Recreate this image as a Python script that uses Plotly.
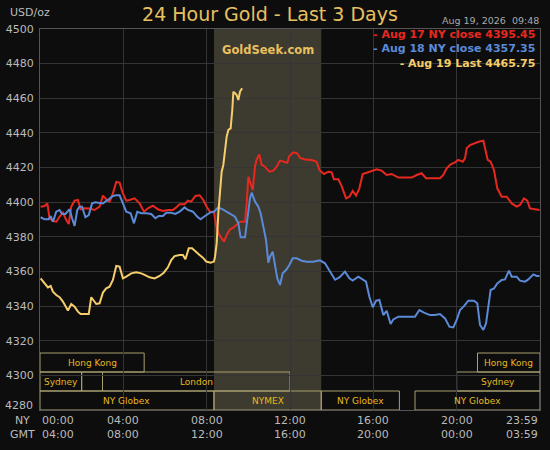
import plotly.graph_objects as go

# ---------------- data ----------------
# time in hours NY (0..24), price in USD/oz
aug17_t = [0.03,0.22,0.35,0.46,0.62,0.78,0.94,1.10,1.26,1.38,1.50,1.66,1.82,1.95,2.14,2.38,2.62,2.86,
           3.02,3.18,3.34,3.50,3.66,3.82,3.98,4.14,4.30,4.54,4.78,4.99,5.18,5.42,5.66,5.90,6.14,6.38,
           6.54,6.70,6.94,7.10,7.26,7.46,7.66,7.84,8.00,8.16,8.35,8.45,8.56,8.72,8.83,8.96,9.12,9.28,
           9.44,9.60,9.84,9.92,10.00,10.11,10.21,10.32,10.40,10.53,10.64,10.80,11.01,11.20,11.36,11.52,
           11.68,11.87,11.97,12.16,12.35,12.48,12.72,13.04,13.28,13.41,13.63,13.84,14.00,14.11,14.32,
           14.48,14.69,14.85,15.01,15.17,15.33,15.49,15.68,15.92,16.16,16.40,16.64,16.88,17.20,17.52,
           17.84,18.08,18.32,18.53,18.96,19.20,19.36,19.52,19.71,19.92,20.08,20.29,20.40,20.48,20.64,
           20.83,21.09,21.28,21.39,21.49,21.63,21.79,21.95,22.16,22.40,22.64,22.88,23.04,23.23,23.39,
           23.52,23.76,23.98]
aug17_v = [4397.4,4397.8,4399.3,4390.7,4389.1,4388.7,4391.6,4394.0,4389.7,4387.4,4397.4,4400.9,4401.3,4395.9,
           4396.5,4396.3,4395.5,4397.4,4403.8,4401.7,4400.3,4405.1,4411.7,4411.3,4405.1,4400.9,4401.3,4402.2,
           4399.3,4394.5,4396.5,4398.0,4395.9,4394.9,4395.5,4395.5,4397.0,4398.8,4398.8,4400.9,4400.3,4403.6,
           4404.0,4401.2,4397.4,4394.5,4394.5,4386.8,4382.0,4379.1,4377.2,4381.0,4384.3,4385.3,4386.8,4388.7,
           4388.7,4399.3,4414.7,4409.9,4407.0,4420.5,4424.7,4427.6,4421.5,4420.5,4417.6,4418.2,4420.5,4424.0,
           4423.4,4422.8,4426.7,4428.8,4428.2,4425.5,4424.7,4424.4,4423.4,4418.6,4416.3,4417.6,4417.2,4413.2,
           4413.2,4409.3,4402.2,4403.2,4406.5,4403.8,4408.0,4416.3,4417.0,4418.2,4419.0,4418.2,4415.7,4416.3,
           4414.2,4414.2,4414.2,4415.7,4416.7,4413.8,4413.8,4413.8,4415.7,4419.5,4421.9,4423.0,4424.4,4423.4,
           4425.3,4431.1,4433.0,4434.0,4435.0,4435.5,4430.1,4424.4,4423.4,4418.6,4408.0,4403.2,4403.2,4399.3,
           4397.4,4398.4,4402.2,4400.9,4396.4,4396.1,4395.45]

aug18_t = [0.03,0.22,0.41,0.51,0.62,0.78,0.94,1.06,1.22,1.42,1.54,1.66,1.79,1.90,2.02,2.18,2.34,2.50,2.66,
           2.86,3.02,3.26,3.50,3.66,3.82,3.98,4.14,4.35,4.51,4.67,4.86,5.10,5.34,5.54,5.70,5.90,6.06,6.30,
           6.50,6.70,6.94,7.10,7.34,7.55,7.71,7.92,8.16,8.35,8.56,8.77,8.96,9.20,9.36,9.52,9.63,9.84,9.95,
           10.08,10.16,10.32,10.48,10.59,10.72,10.85,10.96,11.04,11.17,11.28,11.39,11.52,11.65,11.81,11.97,
           12.13,12.32,12.56,12.80,13.12,13.44,13.68,13.92,14.16,14.37,14.64,14.85,15.01,15.28,15.49,15.65,
           15.81,15.97,16.13,16.29,16.48,16.64,16.83,16.96,17.20,17.60,18.00,18.21,18.43,18.72,18.96,19.20,
           19.44,19.65,19.84,20.00,20.16,20.35,20.56,20.83,20.99,21.12,21.28,21.41,21.52,21.63,21.79,21.95,
           22.16,22.32,22.51,22.64,22.88,23.04,23.28,23.44,23.68,23.84,23.98]
aug18_v = [4391.3,4390.1,4390.1,4392.0,4388.7,4394.5,4395.5,4393.2,4393.2,4395.9,4390.7,4386.3,4395.5,4397.4,
           4397.4,4391.3,4392.6,4399.3,4399.9,4399.7,4399.3,4401.3,4403.6,4404.0,4404.0,4399.3,4394.5,4393.6,
           4387.8,4394.5,4393.6,4393.6,4393.2,4390.7,4392.0,4392.0,4393.9,4393.9,4393.2,4394.5,4397.0,4395.5,
           4394.5,4391.6,4390.1,4392.0,4394.0,4394.5,4397.0,4395.9,4394.5,4393.2,4391.6,4387.8,4379.7,4379.7,
           4389.7,4402.2,4405.5,4400.3,4397.4,4393.6,4385.9,4378.2,4365.1,4368.5,4371.4,4362.8,4356.0,4352.2,
           4358.9,4360.8,4363.7,4367.6,4367.6,4366.2,4365.6,4365.6,4366.4,4364.7,4360.0,4355.2,4356.6,4359.9,
           4356.0,4354.7,4357.0,4355.1,4354.1,4345.4,4339.3,4343.1,4343.5,4334.8,4337.3,4329.7,4332.3,4333.9,
           4333.9,4333.9,4337.7,4336.2,4334.8,4334.8,4335.4,4332.9,4328.1,4327.7,4332.0,4337.7,4340.0,4343.1,
           4343.1,4341.6,4329.1,4326.2,4330.0,4339.6,4349.3,4350.2,4353.1,4355.1,4355.4,4360.5,4357.0,4357.0,
           4354.7,4354.1,4355.4,4358.3,4357.4,4357.35]

aug19_t = [0.03,0.22,0.38,0.51,0.62,0.78,0.94,1.10,1.22,1.34,1.50,1.66,1.82,1.95,2.14,2.34,2.46,2.59,2.70,
           2.86,3.02,3.18,3.34,3.50,3.66,3.82,3.98,4.14,4.38,4.62,4.86,5.02,5.26,5.50,5.74,5.94,6.14,6.30,
           6.46,6.70,6.86,6.98,7.14,7.30,7.46,7.66,7.82,7.98,8.19,8.35,8.40,8.48,8.56,8.64,8.72,8.80,8.88,
           8.96,9.04,9.15,9.23,9.28,9.36,9.44,9.52,9.60,9.70]
aug19_v = [4356.0,4353.1,4350.8,4351.6,4348.3,4346.4,4345.1,4342.6,4339.7,4337.4,4341.2,4339.7,4336.8,4335.4,
           4335.4,4335.4,4345.1,4342.6,4341.2,4341.6,4347.8,4350.3,4351.2,4355.1,4363.2,4362.8,4356.0,4357.0,
           4358.9,4359.5,4358.9,4358.0,4356.6,4356.0,4357.4,4359.3,4362.4,4366.6,4368.9,4369.5,4369.5,4367.0,
           4373.4,4373.4,4371.4,4369.5,4368.0,4365.7,4365.1,4365.7,4368.5,4376.2,4393.6,4409.0,4417.6,4421.5,
           4430.1,4437.8,4441.7,4442.6,4453.2,4463.8,4462.9,4461.9,4459.0,4463.8,4465.75]

series_names = ["Aug 17 NY close 4395.45", "Aug 18 NY close 4357.35", "Aug 19 Last 4465.75"]

# trading sessions: name, start hour, end hour, row (0 = bottom)
session_names = ["Hong Kong", "Hong Kong", "Sydney", "", "London", "Sydney",
                 "NY Globex", "NYMEX", "NY Globex", "NY Globex"]
session_start = [0, 21, 0, 2, 3, 20, 0, 8.35, 13.5, 18]
session_end   = [5, 24, 2, 3, 12, 24, 8.35, 13.5, 17.25, 24]
session_row   = [2, 2, 1, 1, 1, 1, 0, 0, 0, 0]

nymex_start, nymex_end = 8.35, 13.5

y_ticks = [4280, 4300, 4320, 4340, 4360, 4380, 4400, 4420, 4440, 4460, 4480, 4500]
tick_pos = [0, 4, 8, 12, 16, 20, 24]
ny_ticks = ["00:00", "04:00", "08:00", "12:00", "16:00", "20:00", "23:59"]
gmt_ticks = ["04:00", "08:00", "12:00", "16:00", "20:00", "00:00", "03:59"]

# ---------------- figure ----------------
BG = "#0d0d0d"
FONT = "DejaVu Sans"
RED, BLUE, GOLD = "#e8281e", "#5b8ad8", "#f5cd6a"
LABEL = "#bbbbbb"

# plot area in pixels: x 40..540, y 29..410
PL, PR, PT, PB = 40, 540, 29, 410
PW, PH = PR - PL, PB - PT


def px(xp):
    return (xp - PL) / PW


def py(yp):
    return (PB - yp) / PH


fig = go.Figure()
for t, v, c, n in [(aug17_t, aug17_v, RED, series_names[0]),
                   (aug18_t, aug18_v, BLUE, series_names[1]),
                   (aug19_t, aug19_v, GOLD, series_names[2])]:
    fig.add_trace(go.Scatter(x=t, y=v, mode="lines", name=n,
                             line=dict(color=c, width=2), hoverinfo="skip"))

shapes = [dict(type="rect", xref="x", yref="paper", x0=nymex_start, x1=nymex_end, y0=0, y1=1,
               fillcolor="#3d3a2f", line=dict(width=0), layer="below")]
annotations = []
row_h = 19 / PH
for name, s, e, r in zip(session_names, session_start, session_end, session_row):
    shapes.append(dict(type="rect", xref="x", yref="paper", x0=s, x1=e,
                       y0=r * row_h, y1=(r + 1) * row_h,
                       fillcolor="rgba(0,0,0,0)", line=dict(color="#a8a070", width=1), layer="below"))
    if name:
        annotations.append(dict(x=(s + e) / 2, y=(r + 0.5) * row_h, xref="x", yref="paper",
                                text=name, showarrow=False, xanchor="center", yanchor="middle",
                                font=dict(family=FONT, size=9, color="#e8b820")))

# lowest y label sits a little above the bottom edge, as in the original
y_text = [str(v) if v != y_ticks[0] else "" for v in y_ticks]
annotations.append(dict(x=px(35), y=py(405.5), xref="paper", yref="paper", text=str(y_ticks[0]),
                        showarrow=False, xanchor="right", yanchor="middle",
                        font=dict(family=FONT, size=11, color=LABEL)))

# x tick labels (NY time over GMT time)
for i, (p, a, b) in enumerate(zip(tick_pos, ny_ticks, gmt_ticks)):
    anchor = "left" if i == 0 else ("right" if i == len(tick_pos) - 1 else "center")
    annotations.append(dict(x=p, y=py(428), xref="x", yref="paper", text=a + "<br>" + b,
                            showarrow=False, xanchor=anchor, yanchor="middle", align=anchor,
                            font=dict(family=FONT, size=11, color=LABEL)))
annotations.append(dict(x=px(22.5), y=py(428), xref="paper", yref="paper", text="NY<br>GMT",
                        showarrow=False, xanchor="center", yanchor="middle", align="center",
                        font=dict(family=FONT, size=11, color=LABEL)))

# legend block (one text, three coloured lines)
legend_text = "<br>".join("<span style='color:%s'><b>- %s</b></span>" % (c, n)
                          for n, c in zip(series_names, [RED, BLUE, GOLD]))
annotations.append(dict(x=px(537), y=py(49.5), xref="paper", yref="paper",
                        text=legend_text, showarrow=False, align="right",
                        xanchor="right", yanchor="middle",
                        font=dict(family=FONT, size=11, color=RED)))

annotations.append(dict(x=(nymex_start + nymex_end) / 2, y=py(50), xref="x", yref="paper",
                        text="<b>GoldSeek.com</b>", showarrow=False, xanchor="center", yanchor="middle",
                        font=dict(family=FONT, size=11.5, color="#e8c060")))
annotations.append(dict(x=px(52), y=py(12.7), xref="paper", yref="paper",
                        text="USD/oz", showarrow=False, xanchor="right", yanchor="middle",
                        font=dict(family=FONT, size=11, color=LABEL)))
annotations.append(dict(x=px(541), y=py(20), xref="paper", yref="paper",
                        text="Aug 19, 2026  09:48", showarrow=False, xanchor="right", yanchor="middle",
                        font=dict(family=FONT, size=9.5, color="#aaaaaa")))

fig.update_layout(
    width=550, height=450,
    margin=dict(l=PL, r=550 - PR, t=PT, b=450 - PB, pad=0),
    paper_bgcolor=BG, plot_bgcolor=BG,
    showlegend=False,
    title=dict(text="24 Hour Gold - Last 3 Days", x=270 / 550, xanchor="center",
               y=1 - 14 / 450, yanchor="middle", xref="container", yref="container",
               font=dict(family=FONT, size=19, color="#e8c060")),
    xaxis=dict(range=[0, 24], tickvals=[4, 8, 12, 16, 20], showticklabels=False, ticks="",
               showgrid=True, gridcolor="#353535", gridwidth=1, zeroline=False, automargin=False,
               showline=True, linecolor="#555555", linewidth=1, mirror=True, fixedrange=True),
    yaxis=dict(range=[4280, 4500], tickvals=y_ticks, ticktext=y_text,
               ticks="outside", ticklen=3, tickcolor=BG,
               tickfont=dict(family=FONT, size=11, color=LABEL), automargin=False,
               showgrid=True, gridcolor="#353535", gridwidth=1, zeroline=False,
               showline=True, linecolor="#555555", linewidth=1, mirror=True, fixedrange=True),
    shapes=shapes, annotations=annotations,
)

# remove the browser's default page margin so the 550x450 figure fills the window exactly
fig.write_html("out.html",
               config={"displayModeBar": False, "staticPlot": True},
               post_script="document.body.style.margin='0';document.body.style.padding='0';"
                           "document.documentElement.style.background='#0d0d0d';")
